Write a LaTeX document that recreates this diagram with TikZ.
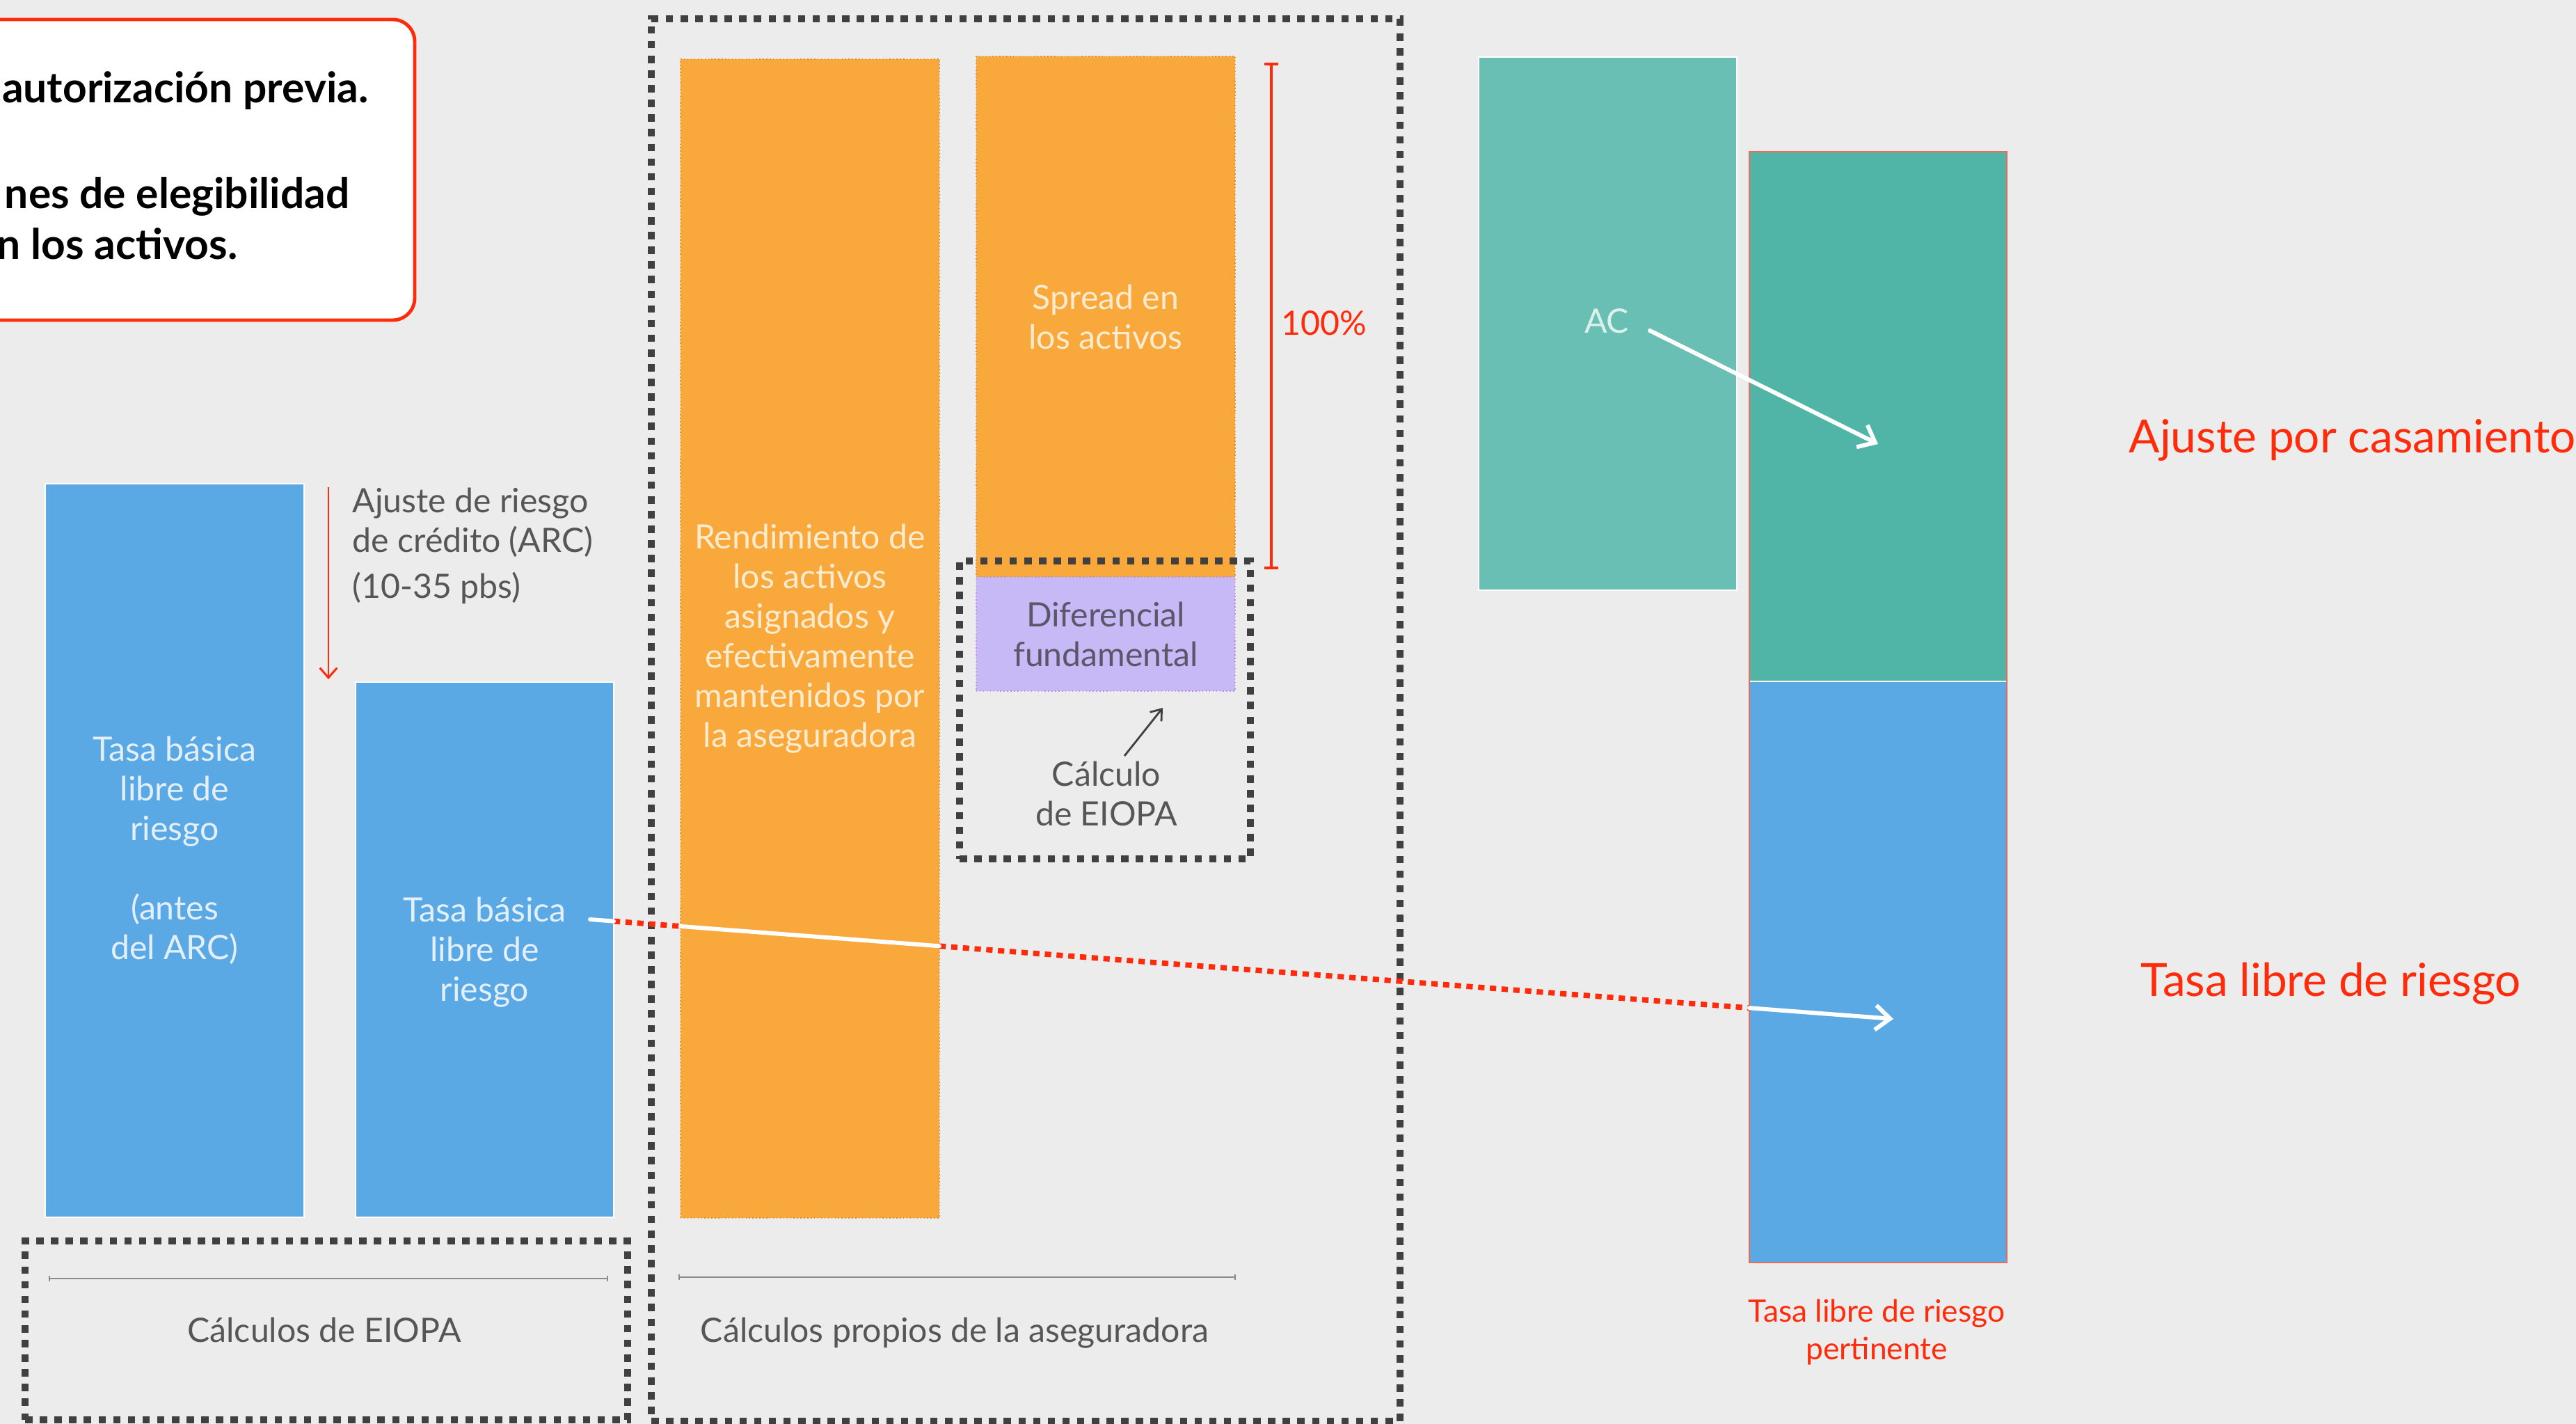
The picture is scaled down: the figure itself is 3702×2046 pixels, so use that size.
\documentclass[tikz,border=0pt]{standalone}
\usepackage{fontspec}
\setmainfont{Lato}
\usetikzlibrary{arrows.meta,fit,calc}
\definecolor{bg}{HTML}{ECECEC}
\definecolor{blueb}{HTML}{5BA9E4}
\definecolor{orangeb}{HTML}{F9A83B}
\definecolor{orangeline}{HTML}{DE9235}
\definecolor{purpleb}{HTML}{C6B9F5}
\definecolor{purpleline}{HTML}{C48AE6}
\definecolor{tealL}{HTML}{69BFB3}
\definecolor{tealD}{HTML}{50B4A7}
\definecolor{redc}{HTML}{FF2B0A}
\definecolor{redframe}{HTML}{EE6A55}
\definecolor{dgrey}{HTML}{404040}
\definecolor{tgrey}{HTML}{565656}
\definecolor{scalegrey}{HTML}{8A8A8A}
\definecolor{bluetext}{HTML}{E3F0FB}
\definecolor{orangetext}{HTML}{FDEBD0}
\definecolor{tealtext}{HTML}{DDF1EC}
\definecolor{purpletext}{HTML}{5B5668}
\newcommand{\fmain}{\fontsize{13.7}{16.2}\selectfont}
\newcommand{\fsmallred}{\fontsize{12.6}{15.1}\selectfont}
\newcommand{\fbigred}{\fontsize{18.7}{22}\selectfont}
\newcommand{\fnote}{\fontsize{17.2}{20.8}\selectfont\bfseries}
\tikzset{
  bar/.style={inner sep=0pt, draw=white, line width=0.5pt},
  obar/.style={inner sep=0pt, fill=orangeb, draw=orangeline, densely dotted, line width=0.4pt},
  pbar/.style={inner sep=0pt, fill=purpleb, draw=purpleline, densely dotted, line width=0.4pt},
  dbox/.style={inner sep=0pt, draw=dgrey, line width=2.7pt, dash pattern=on 3pt off 3pt},
  bartext/.style={font=\fmain, align=center, inner sep=0pt},
  greytext/.style={font=\fmain, text=tgrey, inner sep=0pt},
  redtext/.style={font=\fmain, text=redc, inner sep=0pt},
  notetext/.style={font=\fnote, text=black, inner sep=0pt, anchor=base east},
  scaleline/.style={draw=scalegrey, line width=0.6pt, {Bar[width=2.4pt]}-{Bar[width=2.4pt]}},
  whitearrow/.style={draw=white, line width=1.7pt, line cap=round},
  reddots/.style={draw=redc, line width=2.2pt, dash pattern=on 2.6pt off 2.2pt},
  barb/.style={-{Straight Barb[length=6pt,width=10pt]}},
}
\begin{document}
\begin{tikzpicture}[x=0.01cm,y=-0.01cm]
\useasboundingbox[fill=bg] (0,0) rectangle (3702,2046);

% note box (top left)
\node[fit={(-60,28) (596,460)}, inner sep=0pt, fill=white, draw=redc, line width=1.4pt, rounded corners=9pt] (note) {};
\node[notetext] (n1) at (530,148) {autorización previa.};
\node[notetext] (n2) at (503,300) {nes de elegibilidad};
\node[notetext] (n3) at (342,373) {n los activos.};

% EIOPA bars
\node[bar, fill=blueb, fit={(65,695) (437,1749)}] (b1) {};
\node[bartext, text=bluetext] (b1t) at (b1.center) {Tasa básica\\libre de\\riesgo\\[16.2pt](antes\\del ARC)};
\node[bar, fill=blueb, fit={(511,980) (882,1749)}] (b2) {};
\node[bartext, text=bluetext] (b2t) at ($(b2.center)+(0,4)$) {Tasa básica\\libre de\\riesgo};

\coordinate (arc0) at (472,700);
\coordinate (arc1) at (472,976);
\draw[draw=redc, line width=0.85pt, -{Straight Barb[length=4pt,width=7pt]}] (arc0) -- (arc1);
\node[greytext, align=left, anchor=west] (arct) at (506,784) {Ajuste de riesgo\\de crédito (ARC)\\[2.6pt](10-35 pbs)};

% insurer bars
\node[obar, fit={(978,85) (1350,1750)}] (o1) {};
\node[bartext, text=orangetext] (o1t) at (o1.center) {Rendimiento de\\los activos\\asignados y\\efectivamente\\mantenidos por\\la aseguradora};
\node[obar, fit={(1403,81) (1775,829)}] (o2) {};
\node[bartext, text=orangetext] (o2t) at (o2.center) {Spread en\\los activos};
\node[pbar, fit={(1403,829) (1775,993)}] (df) {};
\node[bartext, text=purpletext] (dft) at (df.center) {Diferencial\\fundamental};

% 100% bracket
\coordinate (pc0) at (1827,90);
\coordinate (pc1) at (1827,818);
\draw[draw=redc, line width=1pt, {Bar[width=5.6pt]}-{Bar[width=5.6pt]}] (pc0) -- (pc1);
\node[redtext, anchor=base west] (pct) at (1841,482) {100\%};

% dashed boxes
\node[dbox, fit={(36,1783) (902,2040)}] (eb) {};
\node[dbox, fit={(936,27) (2012,2042)}] (ib) {};
\node[dbox, fit={(1379,806) (1797,1234)}] (cb) {};

% calculation note
\node[greytext, align=center] (cbt) at (1590,1140) {Cálculo\\de EIOPA};
\coordinate (ca0) at (1616,1086);
\coordinate (ca1) at (1671,1017);
\draw[draw=dgrey, line width=0.8pt, -{Straight Barb[length=4pt,width=6pt]}] (ca0) -- (ca1);

% scale lines and labels
\coordinate (s1a) at (70,1837);
\coordinate (s1b) at (874,1837);
\draw[scaleline] (s1a) -- (s1b);
\node[greytext, anchor=base] (ebt) at (466,1928) {Cálculos de EIOPA};
\coordinate (s2a) at (975,1835);
\coordinate (s2b) at (1776,1835);
\draw[scaleline] (s2a) -- (s2b);
\node[greytext, anchor=base] (ibt) at (1372,1928) {Cálculos propios de la aseguradora};

% right stack
\node[bar, fill=tealL, fit={(2125,82) (2496,848)}] (ac) {};
\node[font=\fmain, text=tealtext, inner sep=0pt, anchor=base] (act) at (2309,479) {AC};
\node[bar, fill=tealD, fit={(2514,218) (2884,979)}] (ma) {};
\node[bar, fill=blueb, fit={(2514,979) (2884,1814)}] (rf) {};
\node[draw=redframe, line width=0.8pt, inner sep=0pt, fit={(2514,218) (2884,1814)}] (rfr) {};
\node[font=\fsmallred, text=redc, align=center, inner sep=0pt] (rft) at (2697,1914) {Tasa libre de riesgo\\pertinente};

\node[font=\fbigred, text=redc, inner sep=0pt, anchor=base west] (lab1) at (3059,651) {Ajuste por casamiento};
\node[font=\fbigred, text=redc, inner sep=0pt, anchor=base west] (lab2) at (3076,1431) {Tasa libre de riesgo};

% AC arrow
\coordinate (aca) at (2371,475);
\coordinate (acb) at (2699,638);
\draw[whitearrow, barb] (aca) -- (acb);

% long connector
\coordinate (L0) at (848,1321);
\coordinate (L1) at (882,1323.6);
\coordinate (L2) at (978,1330.9);
\coordinate (L3) at (1350,1359.3);
\coordinate (L4) at (2514,1448.2);
\coordinate (L5) at (2721,1464);
\draw[reddots] (L1) -- (L2);
\draw[reddots] (L3) -- (L4);
\draw[whitearrow] (L0) -- (L1);
\draw[whitearrow] (L2) -- (L3);
\draw[whitearrow, barb] (L4) -- (L5);
\end{tikzpicture}
\end{document}
